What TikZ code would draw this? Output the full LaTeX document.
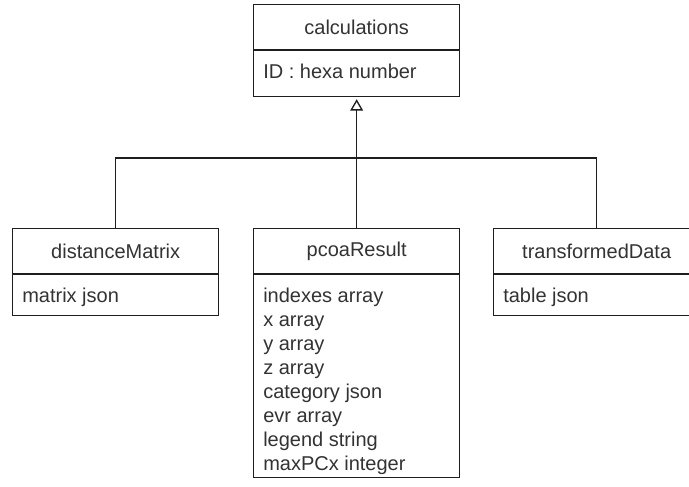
\documentclass[tikz,border=0pt]{standalone}
\usepackage{fontspec}
\setmainfont{Liberation Sans}
\usetikzlibrary{arrows.meta}
\definecolor{umltext}{HTML}{333333}
\definecolor{umlline}{HTML}{1E1E1E}
\begin{document}
\begin{tikzpicture}[x=0.75pt,y=-0.75pt,
  umlfont/.style={font=\fontsize{15pt}{18pt}\selectfont, text=umltext},
  hdr/.style={draw=umlline, line width=1pt, minimum width=154.5pt, minimum height=33.4pt, inner sep=0pt, anchor=north west, umlfont},
  bodybox/.style={draw=umlline, line width=1pt, minimum width=154.5pt, inner sep=0pt, anchor=north west},
  attr/.style={anchor=north west, inner sep=0pt, align=left, umlfont},
  link/.style={draw=umlline, line width=1pt},
  inherit/.style={link, -{Triangle[open, length=8.5pt, width=9.5pt, line width=1pt]}, shorten >=1.5pt}]
\clip (0,0) rectangle (689,486);
\fill[white] (0,0) rectangle (689,486);

% parent class
\node[hdr] (calch) at (253,4) {calculations};
\node[bodybox, minimum height=34.5pt] (calcb) at (calch.south west) {};
\node[attr] (calct) at ([shift={(10,12)}]calcb.north west) {\strut ID : hexa number};

% child classes
\node[hdr] (dmh) at (12,228) {distanceMatrix};
\node[bodybox, minimum height=30.75pt] (dmb) at (dmh.south west) {};
\node[attr] (dmt) at ([shift={(10,12)}]dmb.north west) {\strut matrix json};

\node[hdr] (pch) at (253,228) {pcoaResult};
\node[bodybox, minimum height=152.25pt] (pcb) at (pch.south west) {};
\node[attr] (pct) at ([shift={(10,12)}]pcb.north west) {\strut indexes array\\x array\\y array\\z array\\category json\\evr array\\legend string\\maxPCx integer};

\node[hdr] (tdh) at (493,228) {transformedData};
\node[bodybox, minimum height=30.75pt] (tdb) at (tdh.south west) {};
\node[attr] (tdt) at ([shift={(10,12)}]tdb.north west) {\strut table json};

% generalisation connectors
\coordinate (j) at (356,158);
\draw[link] (dmh.north) |- (j) -| (tdh.north);
\draw[inherit] (pch.north) -- (calcb.south);
\end{tikzpicture}
\end{document}
